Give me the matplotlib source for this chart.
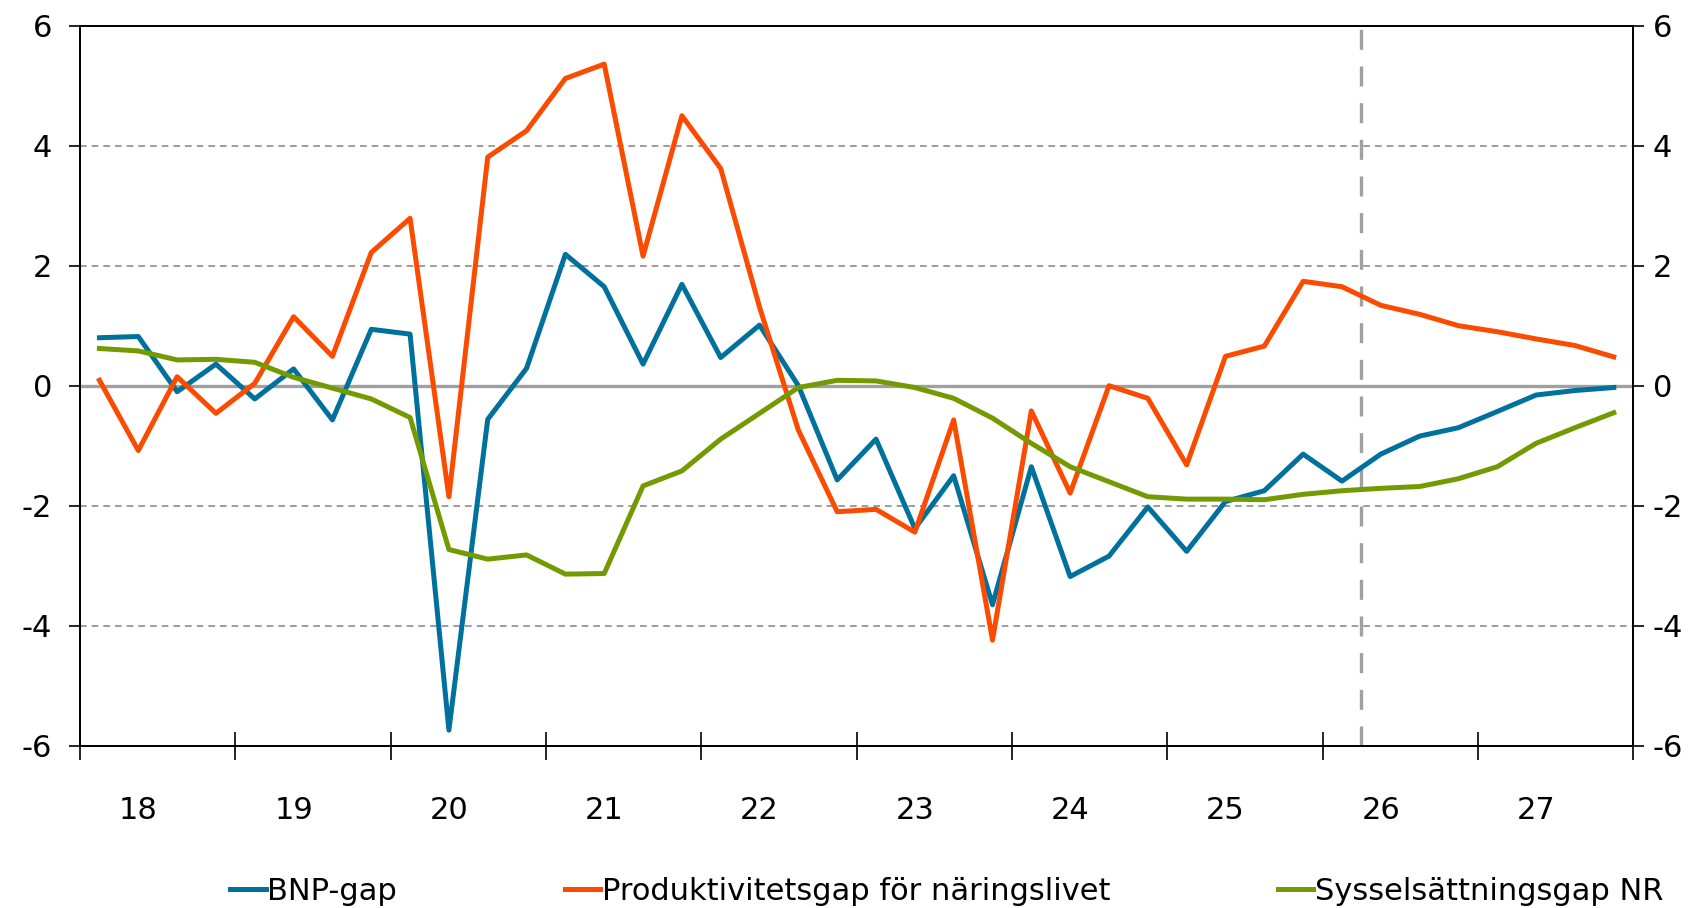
import numpy as np
import matplotlib
matplotlib.use("Agg")
import matplotlib.pyplot as plt
from matplotlib.ticker import FixedLocator, NullFormatter, FixedFormatter

# kvartal 2018Q1 - 2027Q4
years = ['18', '19', '20', '21', '22', '23', '24', '25', '26', '27']

bnp_gap = [0.80, 0.82, -0.10, 0.36, -0.22, 0.28, -0.57, 0.94, 0.86, -5.74,
           -0.56, 0.29, 2.19, 1.65, 0.36, 1.69, 0.47, 1.01, 0.00, -1.57,
           -0.89, -2.38, -1.50, -3.65, -1.35, -3.18, -2.84, -2.02, -2.76, -1.93,
           -1.75, -1.14, -1.59, -1.14, -0.84, -0.70, -0.43, -0.155, -0.08, -0.03]

prod_gap = [0.09, -1.08, 0.15, -0.46, 0.04, 1.15, 0.49, 2.22, 2.79, -1.85,
            3.81, 4.25, 5.12, 5.36, 2.16, 4.50, 3.62, 1.31, -0.74, -2.10,
            -2.06, -2.44, -0.57, -4.24, -0.42, -1.79, 0.00, -0.21, -1.32, 0.49,
            0.66, 1.74, 1.65, 1.34, 1.19, 1.00, 0.90, 0.78, 0.67, 0.48]

syss_gap = [0.62, 0.58, 0.43, 0.44, 0.39, 0.14, -0.04, -0.22, -0.53, -2.73,
            -2.89, -2.82, -3.14, -3.13, -1.67, -1.42, -0.89, -0.46, -0.03, 0.09,
            0.08, -0.03, -0.21, -0.54, -0.96, -1.35, -1.60, -1.85, -1.89, -1.89,
            -1.90, -1.81, -1.75, -1.71, -1.68, -1.55, -1.35, -0.96, -0.70, -0.45]

forecast_start = 32.5  # mellan 2026Q1 och 2026Q2

plt.rcParams['font.family'] = ['DejaVu Sans']
plt.rcParams['axes.unicode_minus'] = False
fs = 22

x = np.arange(len(bnp_gap))

fig = plt.figure(figsize=(17.03, 9.08), dpi=100)
ax = fig.add_axes([0.047, 0.1787, 0.912, 0.793])

ax.axhline(0, color='#A0A0A0', linewidth=2.4, zorder=1)
ax.axvline(forecast_start, color='#A0A0A0', linewidth=2.4, dashes=(6, 5), zorder=1)

ax.plot(x, bnp_gap, color='#00719C', linewidth=3.6, label='BNP-gap', zorder=3)
ax.plot(x, prod_gap, color='#FA4B00', linewidth=3.6, label='Produktivitetsgap för näringslivet', zorder=3)
ax.plot(x, syss_gap, color='#739A00', linewidth=3.6, label='Sysselsättningsgap NR', zorder=3)

ax.set_xlim(-0.5, 39.5)
ax.set_ylim(-6, 6)
ax.set_yticks(np.arange(-6, 7, 2))
ax.yaxis.grid(True, color='#8C8C8C', linewidth=1.2, dashes=(4, 3), zorder=0)
ax.set_axisbelow(True)

# år-markeringar mellan åren, etiketter vid andra kvartalet
ax.xaxis.set_major_locator(FixedLocator(np.arange(-0.5, 40, 4)))
ax.xaxis.set_major_formatter(NullFormatter())
ax.xaxis.set_minor_locator(FixedLocator(np.arange(1, 40, 4)))
ax.xaxis.set_minor_formatter(FixedFormatter(years))
ax.tick_params(axis='x', which='major', direction='inout', length=20, width=1.2)
ax.tick_params(axis='x', which='minor', length=0, pad=36, labelsize=fs)
ax.tick_params(axis='y', direction='out', length=8, width=1.2, pad=12, labelsize=fs)

for s in ax.spines.values():
    s.set_linewidth(1.3)
    s.set_color('black')

ax2 = ax.twinx()
ax2.set_ylim(-6, 6)
ax2.set_yticks(np.arange(-6, 7, 2))
ax2.tick_params(axis='y', direction='out', length=8, width=1.2, pad=6, labelsize=fs)
for s in ax2.spines.values():
    s.set_linewidth(1.3)

fig.legend(loc='center', bbox_to_anchor=(0.556, 0.018), ncol=3, frameon=False,
           fontsize=fs, handlelength=1.15, handletextpad=0.05, columnspacing=5.5,
           borderaxespad=0)

fig.savefig('out.png', dpi=100)
